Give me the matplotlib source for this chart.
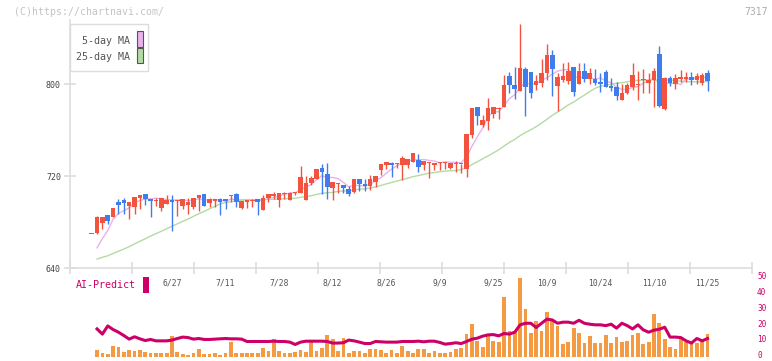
import numpy as np
import pandas as pd
import matplotlib
matplotlib.use('Agg')
import matplotlib.pyplot as plt
import matplotlib.transforms as mtransforms
from matplotlib.patches import Rectangle

# Daily prices, 116 sessions (first one is 6/6, last one 11/25)
opens = [670.0, 670.1, 679.4, 686.1, 684.6, 697.7, 699.1, 694.2, 693.3, 701.2,
         704.3, 700.0, 698.6, 692.5, 695.4, 699.1, 698.3, 694.2, 695.1, 693.3,
         701.2, 704.6, 696.8, 698.6, 700.0, 700.0, 702.9, 704.6, 692.5, 697.7,
         698.6, 699.7, 690.4, 700.6, 702.9, 699.1, 704.3, 699.1, 704.9, 704.9,
         699.1, 714.2, 717.4, 727.2, 722.0, 709.9, 712.8, 712.2, 708.7, 705.8,
         717.4, 713.3, 711.6, 714.8, 725.2, 729.9, 731.6, 730.1, 729.9, 729.9,
         732.5, 733.9, 729.9, 731.0, 729.9, 731.6, 731.0, 727.2, 730.1, 730.1,
         726.4, 755.6, 780.0, 764.3, 767.9, 774.0, 778.2, 780.3, 806.9, 799.4,
         794.2, 813.0, 810.1, 799.0, 801.1, 809.3, 825.2, 798.4, 803.5, 802.7,
         814.8, 800.2, 811.3, 804.3, 804.3, 802.0, 810.7, 798.5, 797.7, 786.1,
         791.8, 797.7, 799.1, 803.5, 801.2, 803.5, 826.1, 778.5, 805.2, 800.0,
         804.4, 804.8, 806.2, 803.5, 801.3, 809.9]
highs = [670.0, 685.3, 684.5, 686.1, 692.5, 700.0, 700.6, 697.4, 702.0, 703.5,
         704.3, 700.0, 700.9, 701.0, 703.5, 703.5, 699.1, 699.7, 700.9, 700.9,
         703.5, 704.6, 700.6, 699.7, 701.2, 700.0, 703.5, 705.5, 698.6, 699.1,
         700.0, 699.7, 703.5, 704.6, 706.1, 705.5, 706.4, 706.0, 706.5, 728.7,
         720.0, 720.3, 726.5, 730.7, 731.3, 714.5, 713.6, 712.2, 711.0, 717.4,
         717.4, 717.4, 720.9, 720.0, 730.7, 732.2, 732.2, 731.6, 737.7, 734.8,
         740.0, 739.1, 733.0, 732.2, 731.6, 732.5, 732.2, 731.6, 733.3, 730.7,
         756.6, 779.2, 780.0, 773.0, 788.0, 780.0, 780.0, 807.8, 810.4, 814.8,
         852.2, 814.8, 810.1, 807.8, 821.7, 834.8, 829.6, 809.5, 818.5, 819.2,
         815.0, 818.3, 818.1, 814.2, 813.0, 809.3, 812.2, 805.0, 802.0, 800.0,
         800.6, 818.7, 811.3, 813.0, 809.9, 814.2, 833.0, 806.0, 806.9, 808.5,
         812.2, 810.5, 810.5, 809.8, 809.9, 812.2]
lows = [670.0, 670.0, 674.2, 678.6, 684.0, 687.2, 687.2, 682.3, 686.7, 691.0,
        694.5, 684.6, 693.9, 689.9, 695.4, 671.9, 685.5, 691.3, 687.2, 691.0,
        689.6, 694.0, 693.3, 693.3, 686.1, 691.6, 697.1, 693.3, 691.0, 692.5,
        693.3, 686.4, 690.4, 697.1, 699.7, 693.3, 700.3, 699.0, 703.5, 704.9,
        699.1, 712.2, 717.0, 704.3, 700.0, 699.1, 704.9, 705.5, 702.9, 704.9,
        707.0, 707.2, 707.8, 710.1, 720.9, 725.8, 719.4, 727.0, 716.8, 726.7,
        732.5, 723.8, 725.2, 718.0, 725.2, 725.2, 725.8, 725.8, 723.8, 722.9,
        719.4, 753.3, 764.0, 763.0, 760.0, 770.7, 770.0, 780.3, 792.5, 787.2,
        794.0, 772.5, 788.1, 794.5, 797.7, 803.5, 789.6, 776.5, 802.0, 800.0,
        790.0, 800.0, 802.2, 800.3, 799.0, 793.3, 797.0, 794.2, 786.1, 786.0,
        791.0, 794.5, 786.1, 792.2, 792.5, 780.3, 779.8, 777.2, 798.5, 796.0,
        802.0, 801.5, 799.5, 800.3, 799.5, 793.9]
closes = [670.0, 684.6, 684.3, 681.2, 692.2, 694.8, 696.8, 697.4, 701.7, 703.5,
          700.0, 698.6, 699.4, 700.9, 699.1, 697.7, 699.1, 699.7, 697.7, 700.9,
          703.5, 694.2, 700.0, 699.7, 697.7, 698.6, 703.5, 697.7, 698.6, 699.1,
          699.1, 697.7, 700.9, 704.6, 704.6, 705.5, 705.5, 705.6, 706.1, 719.1,
          714.2, 718.6, 726.1, 723.8, 710.7, 714.5, 713.6, 709.6, 704.6, 717.4,
          713.0, 711.6, 717.4, 720.0, 730.7, 732.2, 729.9, 731.6, 735.7, 734.8,
          740.0, 728.1, 733.0, 732.2, 731.6, 732.5, 732.2, 731.6, 731.0, 730.7,
          756.6, 779.2, 772.6, 768.6, 779.1, 780.0, 779.1, 799.1, 799.4, 795.9,
          813.9, 797.7, 792.5, 802.3, 809.3, 825.2, 813.3, 806.4, 807.1, 811.4,
          793.3, 811.4, 804.3, 809.6, 801.2, 800.4, 797.7, 796.9, 789.9, 791.9,
          799.1, 807.8, 800.0, 804.4, 803.5, 811.6, 781.2, 804.9, 801.3, 804.9,
          805.8, 806.2, 803.6, 807.3, 807.8, 802.9]

# closes before the first session, only needed to seed the moving averages
prior_closes = [641, 645, 648, 643, 646, 650, 644, 642, 647, 645, 641, 646,
                649, 644, 643, 647, 645, 648, 642, 646, 645, 644, 646, 643]

# volume and AI-Predict score, from the second session on
volume = [4.4, 2.5, 1.9, 7.0, 6.3, 3.2, 4.4, 4.0, 4.4, 3.4,
          2.5, 2.5, 2.5, 2.5, 13.3, 3.2, 1.9, 1.3, 2.5, 5.1,
          1.9, 1.9, 2.5, 1.3, 2.5, 9.5, 2.5, 2.5, 2.5, 2.5,
          2.5, 5.7, 3.8, 11.4, 3.8, 2.5, 2.5, 3.2, 4.4, 3.2,
          9.5, 3.8, 5.7, 13.9, 11.8, 4.0, 12.0, 2.5, 3.8, 3.8,
          2.5, 5.1, 5.1, 4.4, 2.5, 4.4, 2.5, 7.0, 3.8, 2.5,
          5.1, 5.1, 2.5, 3.8, 2.5, 2.5, 3.2, 5.1, 5.7, 14.6,
          20.9, 10.3, 6.3, 14.6, 9.9, 9.5, 38.0, 16.5, 16.5, 50.0,
          30.4, 15.2, 23.0, 16.5, 28.5, 23.2, 19.6, 8.2, 9.5, 18.4,
          15.2, 8.9, 13.3, 8.9, 8.9, 13.9, 8.9, 12.7, 9.5, 10.1,
          13.9, 15.2, 8.2, 9.5, 27.2, 21.5, 11.4, 6.3, 5.1, 12.0,
          9.5, 8.2, 8.9, 10.1, 14.6]
ai_predict = [17.9, 14.6, 19.8, 17.5, 15.8, 13.7, 11.4, 12.9, 11.6, 10.5,
              11.2, 10.3, 10.3, 10.3, 10.8, 11.8, 12.7, 12.4, 11.4, 11.8,
              11.2, 11.2, 11.4, 11.6, 11.8, 11.6, 11.6, 11.4, 9.9, 9.9,
              9.9, 9.9, 9.9, 10.1, 9.9, 9.9, 9.5, 8.0, 9.5, 10.1,
              10.1, 10.1, 10.1, 9.9, 8.9, 8.9, 9.1, 10.8, 10.3, 9.5,
              8.6, 8.6, 9.9, 9.7, 9.5, 9.5, 9.5, 9.9, 9.9, 9.9,
              10.1, 9.7, 10.1, 10.1, 9.3, 8.2, 8.6, 9.1, 8.6, 9.9,
              11.4, 12.0, 13.3, 14.1, 14.3, 13.5, 15.0, 14.6, 15.8, 20.5,
              21.5, 21.5, 18.8, 21.5, 24.1, 23.6, 21.5, 22.2, 22.2, 21.5,
              23.4, 21.5, 20.9, 20.5, 20.5, 20.0, 20.9, 18.4, 21.5, 20.0,
              17.9, 20.5, 17.3, 15.8, 17.1, 17.7, 19.0, 12.7, 12.7, 12.4,
              10.3, 8.9, 11.8, 10.3, 11.8]

date_labels = ['6/27', '7/11', '7/28', '8/12', '8/26', '9/9',
               '9/25', '10/9', '10/24', '11/10', '11/25']
date_index = [15, 25, 35, 45, 55, 65, 75, 85, 95, 105, 115]
ai_ticks = [0, 10, 20, 30, 40, 50]

RED = '#f2533f'
BLUE = '#3f7cee'
PINK = '#eab2ea'
GREEN = '#b3dba3'
CRIMSON = '#cc0066'
ORANGE = '#f39a42'
GRID = '#dddddd'
MONO = 'DejaVu Sans Mono'

W, H = 772, 361


def fx(px):
    return px / W


def fy(py):
    return 1 - py / H


fig = plt.figure(figsize=(W / 100, H / 100), dpi=100)
ax = fig.add_axes([fx(70), fy(268), 682 / W, 248 / H])
ax_low = fig.add_axes([fx(70), fy(358), 682 / W, 80 / H])

xlim = (-4.05, 123.3)
x = np.arange(len(closes))

# moving averages
all_closes = pd.Series(prior_closes + closes, dtype=float)
ma5 = all_closes.rolling(5).mean().to_numpy()[len(prior_closes):]
ma25 = all_closes.rolling(25).mean().to_numpy()[len(prior_closes):]
ax.plot(x[1:], ma5[1:], color=PINK, lw=1, zorder=1)
ax.plot(x[1:], ma25[1:], color=GREEN, lw=1, zorder=1)

# candles
o = np.array(opens)
c = np.array(closes)
colors = np.where(c >= o, RED, BLUE)
ax.vlines(x, lows, highs, colors=colors, lw=1, zorder=2)
ax.bar(x, np.maximum(np.abs(c - o), 0.8), bottom=np.minimum(o, c),
       width=0.85, color=colors, linewidth=0, zorder=3)

ax.set_xlim(xlim)
ax.set_ylim(640, 855.7)
for side in ['top', 'right']:
    ax.spines[side].set_visible(False)
for side in ['left', 'bottom']:
    ax.spines[side].set_color(GRID)
    ax.spines[side].set_linewidth(1.2)
ax.set_xticks(np.linspace(xlim[0], xlim[1], 12))
ax.tick_params(axis='x', direction='inout', length=9, width=1.2,
               color=GRID, labelbottom=False)
ax.set_yticks([640, 720, 800])
ax.tick_params(axis='y', direction='inout', length=9, width=1.2,
               color=GRID, labelsize=6, labelcolor='#444444', pad=2)
for lab in ax.get_yticklabels():
    lab.set_family(MONO)

# lower panel: volume + AI-Predict
ax_low.bar(x[1:], volume, width=0.7, color=ORANGE, linewidth=0, zorder=1)
ax_low.plot(x[1:], ai_predict, color=CRIMSON, lw=2.2, zorder=2)
ax_low.set_xlim(xlim)
ax_low.set_ylim(-0.6, 50.3)
ax_low.axis('off')

# right-hand scale of the lower panel
trans_r = mtransforms.blended_transform_factory(ax_low.transAxes, ax_low.transData)
for v in ai_ticks:
    ax_low.text(1.0075, v + 1.0, str(v), transform=trans_r, ha='left', va='center',
                fontsize=5.6, color=CRIMSON, family=MONO, clip_on=False)

# date labels between the panels
trans = mtransforms.blended_transform_factory(ax.transData, fig.transFigure)
for idx, lab in zip(date_index, date_labels):
    fig.text(idx, fy(283), lab, transform=trans, ha='center', va='center',
             fontsize=5.8, color='#555555', family=MONO)

# header texts
fig.text(fx(14), fy(12), '(C)https://chartnavi.com/', ha='left', va='center',
         fontsize=7.1, color='#c4c4c4', family=MONO)
fig.text(fx(768), fy(12), '7317', ha='right', va='center',
         fontsize=7, color='#aaaaaa', family=MONO)

# legend box
fig.patches.append(Rectangle((fx(70), fy(71)), 78 / W, 47 / H, transform=fig.transFigure,
                             facecolor='white', edgecolor=GRID, lw=1, zorder=5))
fig.text(fx(130), fy(40.5), '5-day MA', ha='right', va='center',
         fontsize=7.2, color='#555555', family=MONO, zorder=6)
fig.text(fx(130), fy(56.5), '25-day MA', ha='right', va='center',
         fontsize=7.2, color='#555555', family=MONO, zorder=6)
fig.patches.append(Rectangle((fx(136.5), fy(46.5)), 6 / W, 15 / H, transform=fig.transFigure,
                             facecolor=PINK, edgecolor='#555555', lw=0.8, zorder=6))
fig.patches.append(Rectangle((fx(136.5), fy(63)), 6 / W, 15 / H, transform=fig.transFigure,
                             facecolor=GREEN, edgecolor='#555555', lw=0.8, zorder=6))

# AI-Predict caption
fig.text(fx(75.5), fy(285.5), 'AI-Predict', ha='left', va='center',
         fontsize=7.2, color=CRIMSON, family=MONO)
fig.patches.append(Rectangle((fx(142.5), fy(293)), 6.5 / W, 16 / H, transform=fig.transFigure,
                             facecolor=CRIMSON, edgecolor='none'))

plt.savefig('out.png', dpi=100)
